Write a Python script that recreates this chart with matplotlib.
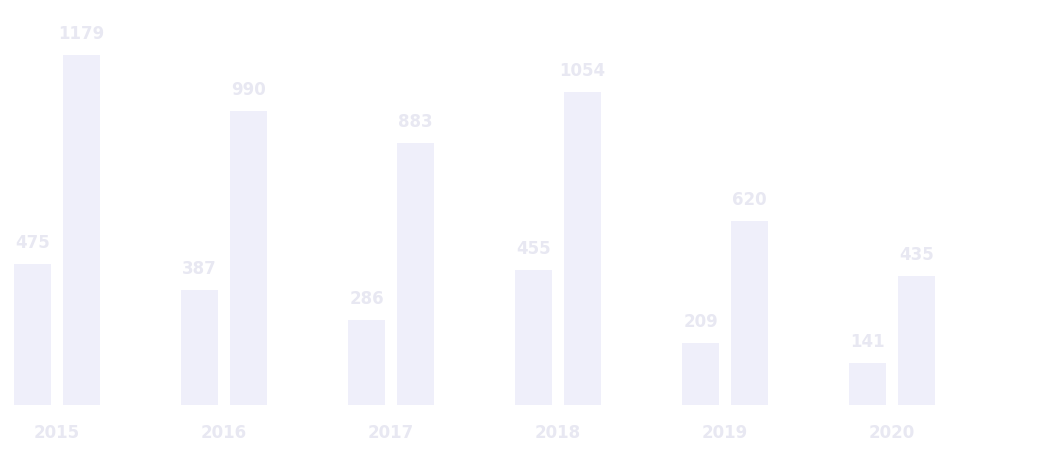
import matplotlib.pyplot as plt
import numpy as np

years = ["2015", "2016", "2017", "2018", "2019", "2020"]
series_a = [475, 387, 286, 455, 209, 141]
series_b = [1179, 990, 883, 1054, 620, 435]

bar_color = "#EFEFFA"
text_color = "#E8E8F2"

fig = plt.figure(figsize=(10.46, 4.54), dpi=100)
ax = fig.add_axes([0, 0, 1, 1])

x = np.arange(len(years))
w = 0.22
off = 0.145

bars_a = ax.bar(x - off, series_a, width=w, color=bar_color)
bars_b = ax.bar(x + off, series_b, width=w, color=bar_color)

# value labels above bars
for bars, vals in [(bars_a, series_a), (bars_b, series_b)]:
    for b, v in zip(bars, vals):
        ax.annotate(str(v), (b.get_x() + b.get_width() / 2, v),
                    xytext=(0, 15), textcoords="offset points",
                    ha="center", va="center", fontsize=12, fontweight="bold",
                    color=text_color)

# year labels under each group
for xi, yr in zip(x, years):
    ax.text(xi, -95, yr, ha="center", va="center", fontsize=12,
            fontweight="bold", color=text_color)

ax.set_xlim(-0.341, 5.922)
ax.set_ylim(-165, 1365)
ax.axis("off")

fig.savefig("out.png", dpi=100, facecolor="white")
